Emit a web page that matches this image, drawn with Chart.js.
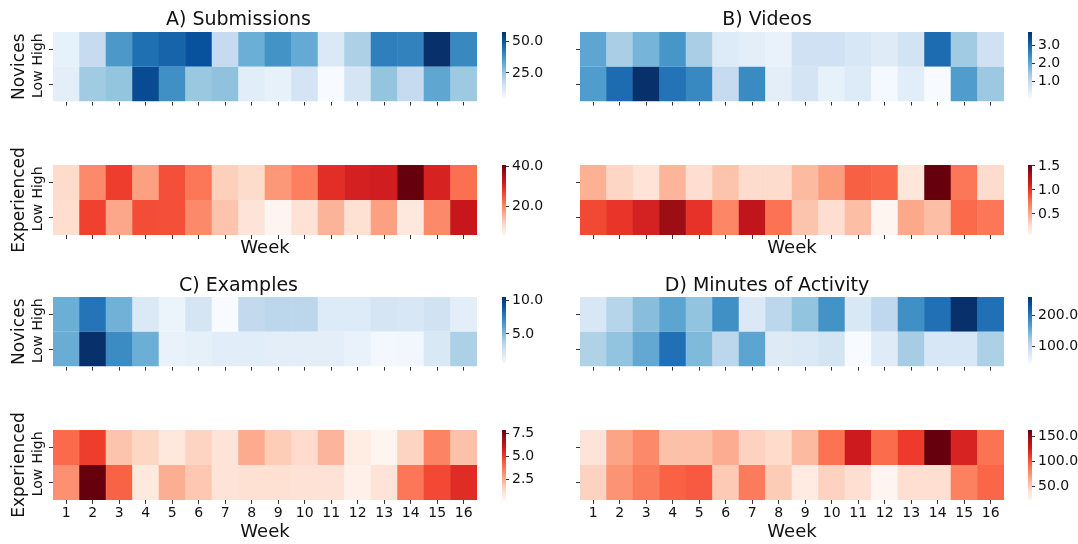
<!DOCTYPE html>
<html><head><meta charset="utf-8">
<script src="https://cdn.jsdelivr.net/npm/chart.js@4"></script>
<style>
html,body{margin:0;padding:0;background:#fff;overflow:hidden;}
#wrap{position:relative;width:1078px;height:544px;background:#fff;}
canvas{position:absolute;}
</style></head><body><div id="wrap"></div>
<script>
// ---------- data ----------
const weeks = ['1','2','3','4','5','6','7','8','9','10','11','12','13','14','15','16'];
const rowLabels = ['Low', 'High'];

const submissionsNovHigh = [8.7,17.8,36.3,44.8,47,51,17.8,31,37.4,32,12,22,41.6,41,57.6,39.5];
const submissionsNovLow  = [9.8,24,25.7,52.2,38,25,26.2,10.3,8.7,14,4.5,13.5,25.7,17.8,33,24.6];
const submissionsExpHigh = [10.7,19.8,27.5,17.4,25.8,21.9,12.1,10.7,18.4,20.9,29.3,31,31.4,40.8,30.7,22.6];
const submissionsExpLow  = [10.4,27.2,16.7,26.1,25.8,19.8,13.5,9.3,5.8,9.7,15.3,10,17.4,8.6,19.8,32.4];

const videosNovHigh = [2.04,1.31,1.79,2.29,1.31,0.55,0.44,0.33,0.81,0.81,0.66,0.52,0.77,2.88,1.42,0.81];
const videosNovLow  = [2.19,2.88,3.71,2.77,2.48,0.99,2.44,0.44,0.73,0.37,0.55,0.15,0.48,0.08,2.19,1.46];
const videosExpHigh = [0.47,0.29,0.22,0.45,0.25,0.38,0.26,0.26,0.43,0.56,0.83,0.80,0.19,1.52,0.73,0.26];
const videosExpLow  = [0.92,1.01,1.11,1.36,1.02,0.66,1.21,0.75,0.38,0.25,0.41,0.06,0.51,0.41,0.79,0.73];

const examplesNovHigh = [5.5,7.9,5.4,1.96,1.17,2.26,0.57,3.15,3.35,3.35,1.86,1.86,2.26,2.16,2.46,1.56];
const examplesNovLow  = [5.6,10.5,7.0,5.5,1.27,1.46,1.66,1.66,1.56,1.56,1.56,1.27,0.77,0.87,2.06,3.85];
const examplesExpHigh = [4.05,4.97,1.92,1.47,0.86,1.54,1.01,2.53,1.7,1.32,2.3,0.63,0.25,1.54,3.45,2.0];
const examplesExpLow  = [3.14,7.86,4.2,0.78,2.46,1.85,1.01,1.16,1.16,1.09,1.09,0.48,1.01,3.75,4.74,5.42];

const minutesNovHigh = [79,109,137,161,131,180,75,105,131,178,77,103,180,206,259,206];
const minutesNovLow  = [113,131,158,206,141,105,161,72,75,84,45,71,120,79,79,116];
const minutesExpHigh = [36,67,78,54,54,63,46,42,57,88,126,91,110,162,121,88];
const minutesExpLow  = [46,74,84,95,98,50,84,49,30,46,40,22,40,40,82,93];

const cbTicksSubNov = [25, 50];
const cbTicksSubExp = [20, 40];
const cbTicksVidNov = [1, 2, 3];
const cbTicksVidExp = [0.5, 1, 1.5];
const cbTicksExNov  = [5, 10];
const cbTicksExExp  = [2.5, 5, 7.5];
const cbTicksMinNov = [100, 200];
const cbTicksMinExp = [50, 100, 150];

// ---------- colormaps ----------
const BLUES = ['#f7fbff','#deebf7','#c6dbef','#9ecae1','#6baed6','#4292c6','#2171b5','#08519c','#08306b'];
const REDS  = ['#fff5f0','#fee0d2','#fcbba1','#fc9272','#fb6a4a','#ef3b2c','#cb181d','#a50f15','#67000d'];
function hexToRgb(h){ const n=parseInt(h.slice(1),16); return [(n>>16)&255,(n>>8)&255,n&255]; }
function cmapColor(stops, t){
  t = Math.max(0, Math.min(1, t));
  const n = stops.length - 1, p = t*n, i = Math.min(Math.floor(p), n-1), f = p - i;
  const a = hexToRgb(stops[i]), b = hexToRgb(stops[i+1]);
  return 'rgb(' + a.map((v,k)=>Math.round(v + (b[k]-v)*f)).join(',') + ')';
}

Chart.defaults.font.family = "'DejaVu Sans', sans-serif";
Chart.defaults.color = '#111';
Chart.defaults.animation = false;

const TXT = '#111', TICK = '#333';
const wrap = document.getElementById('wrap');
function makeCanvas(left, top, width, height){
  const c = document.createElement('canvas');
  c.width = width; c.height = height;
  c.style.left = left + 'px'; c.style.top = top + 'px';
  c.style.width = width + 'px'; c.style.height = height + 'px';
  wrap.appendChild(c);
  return c;
}

const rowLabelPlugin = {
  id: 'rowLabels',
  afterDraw(chart) {
    const o = chart.options.plugins.rowLabels;
    if (!o || !o.show) return;
    const {ctx, chartArea, scales} = chart;
    ctx.save();
    ctx.font = "14px 'DejaVu Sans', sans-serif";
    ctx.fillStyle = TXT;
    ctx.textAlign = 'center'; ctx.textBaseline = 'middle';
    rowLabels.forEach((lab, i) => {
      const y = scales.y.getPixelForValue(i + 0.5);
      ctx.save();
      ctx.translate(chartArea.left - o.offset, y);
      ctx.rotate(-Math.PI/2);
      ctx.fillText(lab, 0, 0);
      ctx.restore();
    });
    ctx.restore();
  }
};

function heatmap(c){
  const vals = c.high.concat(c.low);
  const vmin = Math.min(...vals), vmax = Math.max(...vals);
  const col = v => cmapColor(c.cmap, (v - vmin)/(vmax - vmin));
  const canvas = makeCanvas(c.left, c.top, c.width, c.height);
  new Chart(canvas, {
    type: 'bar',
    data: { labels: weeks, datasets: [
      { label: 'Low',  data: c.low.map(() => [0, 1]),  backgroundColor: c.low.map(col) },
      { label: 'High', data: c.high.map(() => [1, 2]), backgroundColor: c.high.map(col) }
    ]},
    plugins: [rowLabelPlugin],
    options: {
      responsive: false, animation: false,
      layout: { padding: { top: c.padTop, right: c.padRight, left: 0, bottom: 0 } },
      datasets: { bar: { grouped: false, barPercentage: 1, categoryPercentage: 1.02, borderWidth: 0 } },
      plugins: {
        legend: { display: false }, tooltip: { enabled: false },
        title: c.title ? { display: true, text: c.title, color: TXT,
                 font: { size: 19, weight: 'normal' }, padding: { top: c.titlePad[0], bottom: c.titlePad[1] } }
               : { display: false },
        rowLabels: { show: !!c.yTitle, offset: 15 }
      },
      scales: {
        x: {
          type: 'category', offset: true,
          grid: { offset: false, drawOnChartArea: false, drawTicks: true, tickLength: 4, color: TICK },
          border: { display: false },
          ticks: { color: c.xLabels ? TXT : 'rgba(0,0,0,0)', font: { size: 14 }, padding: 1, maxRotation: 0, autoSkip: false },
          title: { display: !!c.week, text: 'Week', color: TXT, font: { size: 18 }, padding: { top: 0, bottom: c.weekPad || 0 } },
          afterFit: s => { s.height = c.xh; }
        },
        y: {
          type: 'linear', min: 0, max: 2,
          afterBuildTicks: s => { s.ticks = rowLabels.map((_, i) => ({ value: i + 0.5 })); },
          grid: { drawOnChartArea: false, drawTicks: true, tickLength: 4, color: TICK },
          border: { display: false },
          ticks: { color: 'rgba(0,0,0,0)', font: { size: 14 }, padding: 0 },
          title: { display: !!c.yTitle, text: c.yTitle || '', color: TXT, font: { size: 17 }, padding: { top: 9.8, bottom: 0 } },
          afterFit: s => { s.width = c.yw; }
        }
      }
    }
  });
  return { vmin, vmax };
}

function colorbar(c){
  const canvas = makeCanvas(c.left, c.top, c.width, c.height);
  const cmap = c.cmap;
  new Chart(canvas, {
    type: 'bar',
    data: { labels: [''], datasets: [{
      data: [[c.vmin, c.vmax]],
      backgroundColor: ctx => {
        const ca = ctx.chart.chartArea;
        if (!ca) return cmap[4];
        const g = ctx.chart.ctx.createLinearGradient(0, ca.bottom, 0, ca.top);
        cmap.forEach((s, i) => g.addColorStop(i/(cmap.length-1), s));
        return g;
      },
      borderWidth: 0, barPercentage: 1, categoryPercentage: 1
    }]},
    options: {
      responsive: false, animation: false,
      layout: { padding: { left: 5, top: c.padTop, bottom: c.padBottom, right: 0 } },
      plugins: { legend: { display: false }, tooltip: { enabled: false } },
      scales: {
        x: { display: false },
        y: {
          position: 'right', min: c.vmin, max: c.vmax,
          afterBuildTicks: s => { s.ticks = c.ticks.map(v => ({ value: v })); },
          grid: { drawOnChartArea: false, drawTicks: true, tickLength: 3, color: TICK },
          border: { display: false },
          ticks: { font: { size: 14 }, color: TXT, padding: 3, callback: v => Number(v).toFixed(1) },
          afterFit: s => { s.width = c.width - 5 - 4; }
        }
      }
    }
  });
}

// ---------- layout ----------
const rows = [
  { top: 0,   height: 110, padTop: 0,  xh: 8,  chartTop: 32, titlePad: [8.6, 0.6] },
  { top: 130, height: 130, padTop: 35, xh: 25, chartTop: 35, weekPad: 1.2 },
  { top: 265, height: 110, padTop: 0,  xh: 8,  chartTop: 32, titlePad: [9.2, 0] },
  { top: 395, height: 149, padTop: 35, xh: 44, chartTop: 35, weekPad: 0.4 }
];
const cols = [
  { left: 0,   width: 479, yw: 53, padRight: 2, cbLeft: 497,  cbWidth: 69 },
  { left: 530, width: 476, yw: 50, padRight: 2, cbLeft: 1023, cbWidth: 55 }
];

const panels = [
  { col: 0, row: 0, title: 'A) Submissions', yTitle: 'Novices', cmap: BLUES, high: submissionsNovHigh, low: submissionsNovLow, ticks: cbTicksSubNov },
  { col: 0, row: 1, yTitle: 'Experienced', cmap: REDS, high: submissionsExpHigh, low: submissionsExpLow, ticks: cbTicksSubExp, week: true },
  { col: 1, row: 0, title: 'B) Videos', cmap: BLUES, high: videosNovHigh, low: videosNovLow, ticks: cbTicksVidNov },
  { col: 1, row: 1, cmap: REDS, high: videosExpHigh, low: videosExpLow, ticks: cbTicksVidExp, week: true },
  { col: 0, row: 2, title: 'C) Examples', yTitle: 'Novices', cmap: BLUES, high: examplesNovHigh, low: examplesNovLow, ticks: cbTicksExNov },
  { col: 0, row: 3, yTitle: 'Experienced', cmap: REDS, high: examplesExpHigh, low: examplesExpLow, ticks: cbTicksExExp, week: true, xLabels: true },
  { col: 1, row: 2, title: 'D) Minutes of Activity', cmap: BLUES, high: minutesNovHigh, low: minutesNovLow, ticks: cbTicksMinNov },
  { col: 1, row: 3, cmap: REDS, high: minutesExpHigh, low: minutesExpLow, ticks: cbTicksMinExp, week: true, xLabels: true }
];

panels.forEach(p => {
  const r = rows[p.row], cl = cols[p.col];
  const range = heatmap({
    left: cl.left, top: r.top, width: cl.width, height: r.height,
    padTop: r.padTop, padRight: cl.padRight, yw: cl.yw, xh: r.xh,
    title: p.title, titlePad: r.titlePad, yTitle: p.yTitle,
    week: p.week, weekPad: r.weekPad, xLabels: p.xLabels,
    high: p.high, low: p.low, cmap: p.cmap
  });
  colorbar({
    left: cl.cbLeft, top: r.top, width: cl.cbWidth, height: r.height,
    padTop: r.chartTop, padBottom: r.xh,
    vmin: range.vmin, vmax: range.vmax, cmap: p.cmap, ticks: p.ticks
  });
});
</script>
</body></html>
